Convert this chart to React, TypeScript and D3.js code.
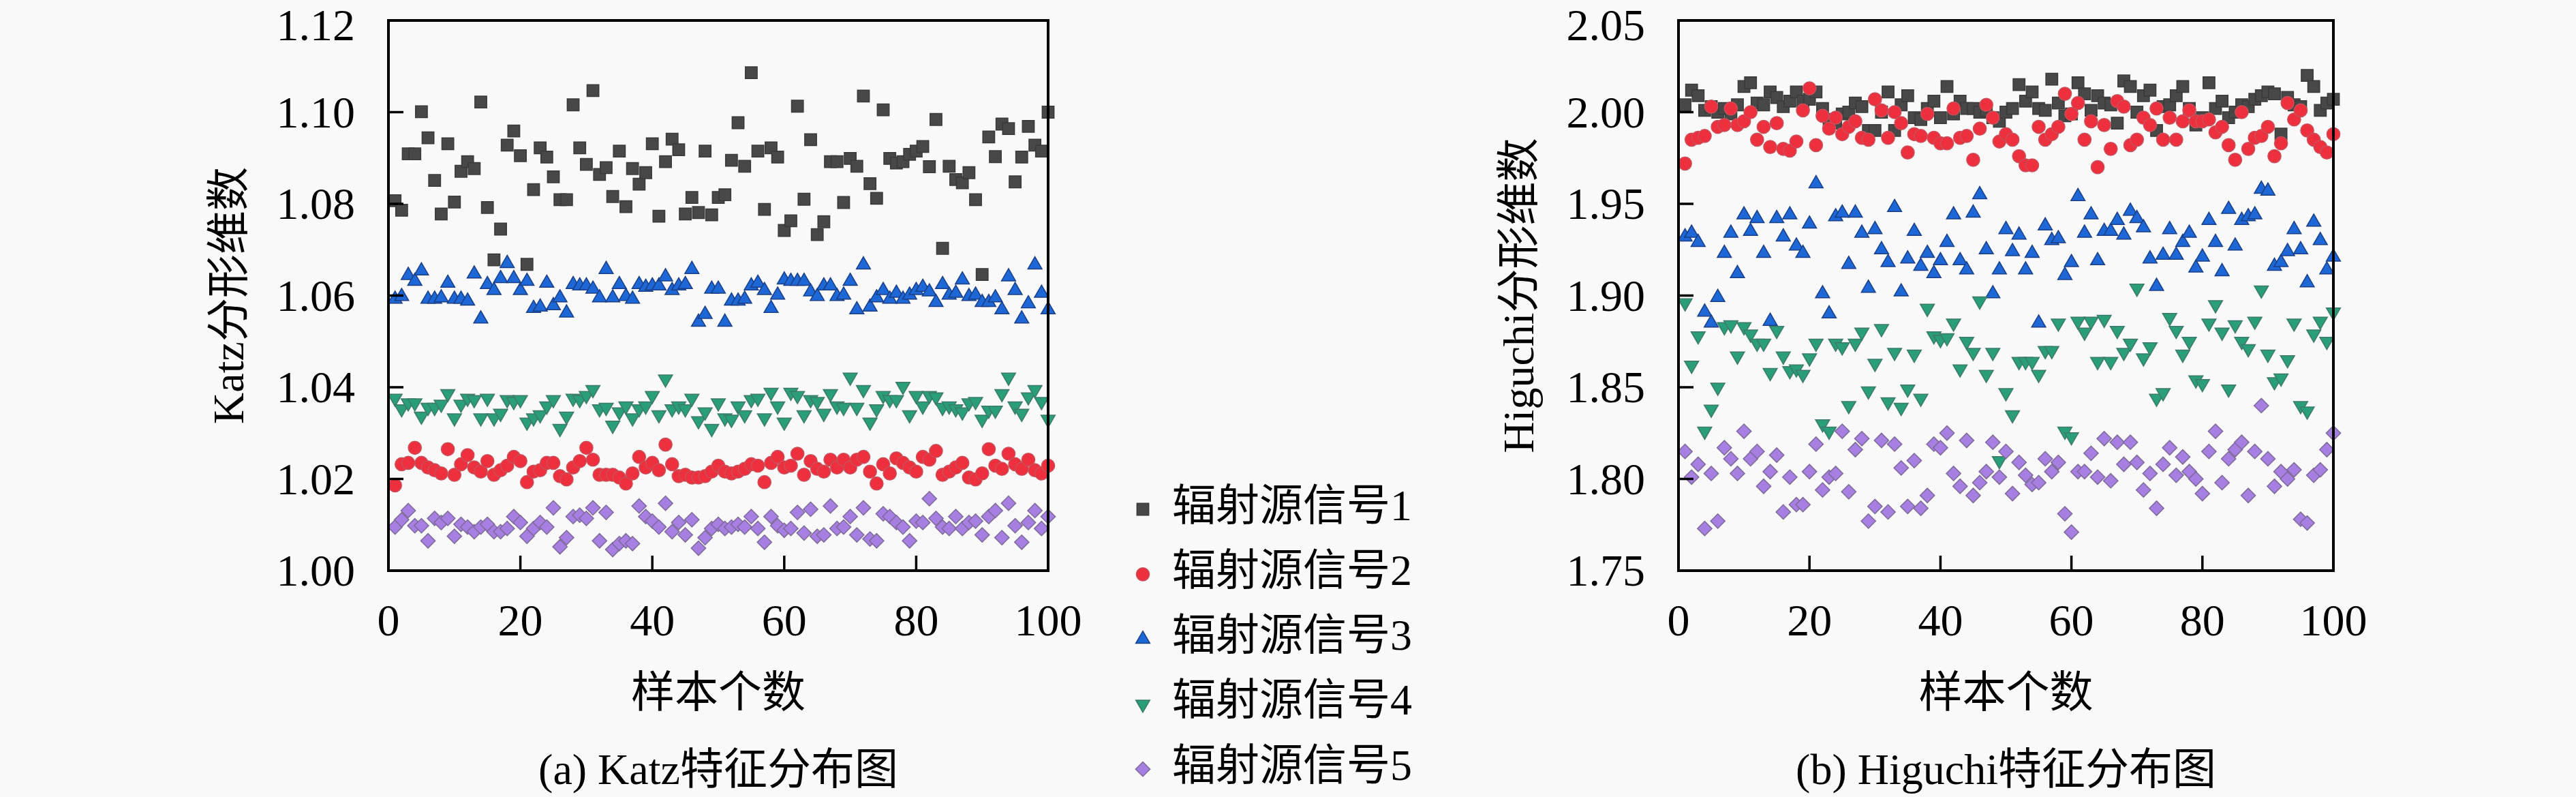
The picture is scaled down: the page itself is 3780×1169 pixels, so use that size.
import { useMemo } from "react";
import * as d3 from "d3";

// Canvas
const WIDTH = 3780;
const HEIGHT = 1169;
const BG = "#f9f9f9";
const LATIN = "'Liberation Serif', 'DejaVu Serif', serif";
const MIXED = "'Liberation Serif', 'Noto Sans CJK SC', serif";
const TICK_LENGTH = 22;

// Sample index on the x axis
const SAMPLES = d3.range(1, 101);
const X_TICKS = [0, 20, 40, 60, 80, 100];

// (a) Katz fractal dimension, one array per signal
const katz1 = [
  1.0807, 1.0786, 1.0909, 1.0909, 1.1001, 1.0944, 1.0851, 1.0778, 1.0931, 1.0804,
  1.0871, 1.0892, 1.0877, 1.1022, 1.0792, 1.0678, 1.0745, 1.0928, 1.0959, 1.0905,
  1.0668, 1.0831, 1.0922, 1.0902, 1.0859, 1.0809, 1.0809, 1.1016, 1.0922, 1.0886,
  1.1047, 1.0864, 1.0879, 1.0816, 1.0915, 1.0794, 1.0877, 1.0843, 1.0868, 1.0931,
  1.0773, 1.0892, 1.0941, 1.0918, 1.0778, 1.0814, 1.0781, 1.0915, 1.0776, 1.0814,
  1.082, 1.0895, 1.0977, 1.0882, 1.1086, 1.0915, 1.0788, 1.0922, 1.0902, 1.0742,
  1.0763, 1.1013, 1.081, 1.094, 1.0733, 1.0761, 1.0892, 1.0892, 1.0803, 1.0899,
  1.0882, 1.1035, 1.0844, 1.0812, 1.1005, 1.0899, 1.0889, 1.0892, 1.0908, 1.0915,
  1.0925, 1.0881, 1.0984, 1.0703, 1.0882, 1.0853, 1.0846, 1.0868, 1.0809, 1.0646,
  1.0946, 1.0903, 1.0974, 1.0964, 1.0848, 1.0902, 1.0969, 1.0928, 1.0915, 1.1,
];
const katz2 = [
  1.0186, 1.0232, 1.0235, 1.0268, 1.0235, 1.0225, 1.0219, 1.0212, 1.0265, 1.0209,
  1.0232, 1.0252, 1.0225, 1.0216, 1.0239, 1.0209, 1.0219, 1.0229, 1.0248, 1.0239,
  1.0193, 1.0216, 1.0219, 1.0235, 1.0235, 1.0206, 1.0199, 1.0225, 1.0239, 1.0268,
  1.0242, 1.0209, 1.0209, 1.0209, 1.0203, 1.019, 1.0212, 1.0248, 1.0225, 1.0235,
  1.0219, 1.0275, 1.0232, 1.0206, 1.0209, 1.0203, 1.0203, 1.0206, 1.0216, 1.0229,
  1.0216, 1.0212, 1.0216, 1.0222, 1.0232, 1.0229, 1.0193, 1.0235, 1.0248, 1.0225,
  1.0229, 1.0255, 1.0209, 1.0239, 1.0222, 1.0216, 1.0242, 1.0225, 1.0242, 1.0225,
  1.0242, 1.0248, 1.0216, 1.019, 1.0232, 1.0212, 1.0245, 1.0235, 1.0225, 1.0216,
  1.0248, 1.0242, 1.0261, 1.0209, 1.0216, 1.0225, 1.0235, 1.0203, 1.0199, 1.0212,
  1.0265, 1.0229, 1.0222, 1.0255, 1.0232, 1.0222, 1.0242, 1.0219, 1.0212, 1.0229,
];
const katz3 = [
  1.0592, 1.0598, 1.0644, 1.0631, 1.0654, 1.0592, 1.0592, 1.0595, 1.0627, 1.0592,
  1.0592, 1.0588, 1.0647, 1.0549, 1.0624, 1.0611, 1.0637, 1.067, 1.0637, 1.0611,
  1.0631, 1.0572, 1.0575, 1.0627, 1.0578, 1.0595, 1.0562, 1.0624, 1.0621, 1.0621,
  1.0614, 1.0595, 1.0657, 1.0595, 1.0624, 1.0598, 1.0592, 1.0624, 1.0618, 1.0621,
  1.0621, 1.0641, 1.0611, 1.0621, 1.0624, 1.0657, 1.0542, 1.0559, 1.0614, 1.0614,
  1.0542, 1.0588, 1.0588, 1.0592, 1.0621, 1.0627, 1.0611, 1.0572, 1.0601, 1.0634,
  1.0631, 1.0631, 1.0631, 1.0608, 1.0598, 1.0621, 1.0621, 1.0598, 1.0601, 1.0631,
  1.0569, 1.0667, 1.0575, 1.0595, 1.0611, 1.0592, 1.0605, 1.0592, 1.0601, 1.0611,
  1.0618, 1.0608, 1.0585, 1.0624, 1.0601, 1.0605, 1.0634, 1.0598, 1.0601, 1.0585,
  1.0585, 1.0595, 1.0569, 1.0641, 1.0611, 1.0549, 1.0582, 1.0667, 1.0605, 1.0569,
];
const katz4 = [
  1.0376, 1.0353, 1.0366, 1.0366, 1.0337, 1.0356, 1.0356, 1.0363, 1.0386, 1.0333,
  1.0363, 1.0376, 1.0373, 1.0333, 1.0376, 1.0333, 1.0343, 1.0373, 1.0369, 1.0373,
  1.0324, 1.0333, 1.034, 1.0359, 1.0373, 1.031, 1.0337, 1.0376, 1.0373, 1.0382,
  1.0395, 1.0353, 1.0356, 1.0317, 1.0346, 1.0359, 1.0333, 1.0353, 1.0359, 1.0382,
  1.034, 1.0418, 1.0353, 1.0359, 1.0353, 1.0376, 1.0327, 1.0346, 1.031, 1.0366,
  1.0333, 1.033, 1.0359, 1.034, 1.0373, 1.0376, 1.0333, 1.0389, 1.0359, 1.0324,
  1.0389, 1.0382, 1.034, 1.0373, 1.0369, 1.0343, 1.0386, 1.0359, 1.0356, 1.0422,
  1.0356, 1.0395, 1.0324, 1.0353, 1.0382, 1.0373, 1.0373, 1.0402, 1.034, 1.0382,
  1.0359, 1.0382, 1.0379, 1.0356, 1.0359, 1.0353, 1.0346, 1.0366, 1.0369, 1.033,
  1.035, 1.035, 1.0386, 1.0422, 1.0359, 1.0343, 1.0379, 1.0395, 1.0369, 1.033,
];
const katz5 = [
  1.0095, 1.0111, 1.0131, 1.0098, 1.0098, 1.0065, 1.0114, 1.0105, 1.0114, 1.0075,
  1.0101, 1.0095, 1.0085, 1.0095, 1.0101, 1.0085, 1.0085, 1.0092, 1.0118, 1.0105,
  1.0075, 1.0092, 1.0105, 1.0095, 1.0137, 1.0052, 1.0072, 1.0118, 1.0121, 1.0114,
  1.0137, 1.0065, 1.0127, 1.0046, 1.0059, 1.0065, 1.0059, 1.0141, 1.0118, 1.0108,
  1.0095, 1.0147, 1.0085, 1.0105, 1.0078, 1.0111, 1.0049, 1.0072, 1.0092, 1.0101,
  1.0092, 1.0095, 1.0101, 1.0095, 1.0118, 1.0092, 1.0062, 1.0118, 1.0098, 1.0088,
  1.0092, 1.0127, 1.0082, 1.0134, 1.0075, 1.0078, 1.0141, 1.0092, 1.0095, 1.0118,
  1.0078, 1.0137, 1.0069, 1.0065, 1.0124, 1.0118, 1.0105, 1.0095, 1.0065, 1.0108,
  1.0105, 1.0157, 1.0114, 1.0095, 1.0092, 1.0118, 1.0092, 1.0105, 1.0108, 1.0078,
  1.0118, 1.0131, 1.0072, 1.0147, 1.0098, 1.0062, 1.0105, 1.0131, 1.0092, 1.0118,
];

// (b) Higuchi fractal dimension, one array per signal
const higuchi1 = [
  2.004, 2.012, 2.009, 2.001, 2.003, 2.0, 2.002, 1.999, 2.004, 2.014,
  2.016, 2.005, 2.004, 2.011, 2.008, 2.003, 2.006, 2.011, 2.006, 2.007,
  2.011, 2.002, 1.996, 1.994, 1.999, 2.0, 2.005, 2.003, 1.99, 1.99,
  2.0, 2.011, 1.99, 2.004, 2.009, 1.997, 1.996, 2.002, 2.006, 1.997,
  2.014, 1.999, 2.006, 2.002, 2.002, 2.0, 2.001, 1.997, 1.995, 2.0,
  2.002, 2.015, 2.006, 2.011, 2.002, 2.001, 2.018, 2.005, 1.998, 1.999,
  2.016, 2.01, 2.001, 2.009, 2.005, 2.004, 1.994, 2.017, 2.014, 2.0,
  2.009, 2.012, 1.99, 2.003, 2.004, 2.009, 2.014, 2.002, 1.993, 1.997,
  2.016, 2.002, 2.006, 1.997, 2.0, 2.004, 2.003, 2.007, 2.009, 2.011,
  2.01, 1.988, 2.008, 2.004, 2.003, 2.02, 2.014, 2.001, 2.005, 2.007,
];
const higuchi2 = [
  1.972, 1.985, 1.986, 1.987, 2.003, 1.992, 1.993, 2.002, 1.993, 1.995,
  2.0, 1.985, 1.992, 1.981, 1.994, 1.98, 1.979, 1.984, 2.001, 2.013,
  1.982, 1.998, 1.991, 1.997, 1.988, 1.992, 1.995, 1.986, 1.985, 2.007,
  2.001, 1.986, 2.0, 1.994, 1.978, 1.988, 1.987, 1.999, 1.986, 1.983,
  1.983, 2.002, 1.986, 1.987, 1.974, 1.991, 2.004, 1.997, 1.984, 1.988,
  1.985, 1.976, 1.971, 1.971, 1.992, 1.985, 1.988, 1.992, 2.01, 1.999,
  2.005, 1.985, 1.995, 1.97, 1.993, 1.98, 2.006, 2.003, 1.982, 1.985,
  1.997, 1.993, 2.002, 1.985, 1.997, 1.985, 1.995, 2.001, 1.995, 1.995,
  1.996, 1.989, 1.992, 1.982, 1.974, 2.0, 1.98, 1.986, 1.987, 1.992,
  1.976, 1.983, 2.005, 1.996, 2.001, 1.99, 1.985, 1.981, 1.978, 1.988,
];
const higuchi3 = [
  1.932, 1.934, 1.929, 1.891, 1.885, 1.899, 1.923, 1.934, 1.912, 1.944,
  1.935, 1.942, 1.923, 1.886, 1.942, 1.932, 1.944, 1.927, 1.923, 1.939,
  1.961, 1.901, 1.89, 1.943, 1.945, 1.917, 1.945, 1.934, 1.904, 1.936,
  1.925, 1.918, 1.948, 1.902, 1.92, 1.935, 1.916, 1.923, 1.912, 1.919,
  1.929, 1.944, 1.919, 1.914, 1.945, 1.955, 1.925, 1.901, 1.914, 1.936,
  1.924, 1.933, 1.914, 1.923, 1.885, 1.938, 1.93, 1.931, 1.911, 1.918,
  1.954, 1.934, 1.944, 1.919, 1.935, 1.935, 1.941, 1.933, 1.946, 1.942,
  1.937, 1.92, 1.905, 1.922, 1.936, 1.922, 1.929, 1.934, 1.915, 1.921,
  1.941, 1.929, 1.913, 1.947, 1.927, 1.941, 1.943, 1.944, 1.958, 1.957,
  1.916, 1.918, 1.924, 1.936, 1.925, 1.907, 1.94, 1.93, 1.914, 1.921,
];
const higuchi4 = [
  1.896, 1.862, 1.878, 1.826, 1.838, 1.85, 1.883, 1.884, 1.867, 1.883,
  1.879, 1.874, 1.874, 1.858, 1.881, 1.867, 1.859, 1.86, 1.857, 1.866,
  1.874, 1.83, 1.826, 1.874, 1.872, 1.84, 1.874, 1.88, 1.848, 1.863,
  1.882, 1.842, 1.869, 1.839, 1.849, 1.868, 1.844, 1.893, 1.878, 1.876,
  1.877, 1.885, 1.86, 1.875, 1.869, 1.897, 1.857, 1.869, 1.81, 1.847,
  1.835, 1.864, 1.864, 1.864, 1.857, 1.87, 1.87, 1.885, 1.826, 1.823,
  1.886, 1.88, 1.886, 1.864, 1.887, 1.864, 1.881, 1.869, 1.874, 1.904,
  1.866, 1.872, 1.844, 1.847, 1.888, 1.881, 1.868, 1.875, 1.854, 1.852,
  1.885, 1.895, 1.88, 1.849, 1.884, 1.875, 1.871, 1.886, 1.903, 1.868,
  1.853, 1.855, 1.865, 1.885, 1.84, 1.837, 1.879, 1.886, 1.875, 1.891,
];
const higuchi5 = [
  1.815, 1.801, 1.808, 1.773, 1.803, 1.777, 1.817, 1.811, 1.803, 1.826,
  1.811, 1.815, 1.796, 1.804, 1.813, 1.782, 1.801, 1.786, 1.786, 1.804,
  1.819, 1.794, 1.801, 1.803, 1.826, 1.793, 1.816, 1.822, 1.777, 1.785,
  1.821, 1.782, 1.819, 1.806, 1.785, 1.81, 1.784, 1.791, 1.819, 1.817,
  1.825, 1.803, 1.796, 1.821, 1.791, 1.798, 1.804, 1.82, 1.801, 1.815,
  1.792, 1.809, 1.802, 1.797, 1.798, 1.811, 1.804, 1.809, 1.781, 1.771,
  1.804, 1.804, 1.814, 1.801, 1.822, 1.799, 1.82, 1.808, 1.82, 1.809,
  1.794, 1.803, 1.784, 1.808, 1.817, 1.802, 1.812, 1.804, 1.8, 1.792,
  1.815, 1.826, 1.798, 1.811, 1.816, 1.82, 1.791, 1.815, 1.84, 1.811,
  1.796, 1.804, 1.8, 1.805, 1.778, 1.776, 1.802, 1.805, 1.816, 1.825,
];

const KATZ_TICKS = [1.0, 1.02, 1.04, 1.06, 1.08, 1.1, 1.12];
const HIGUCHI_TICKS = [1.75, 1.8, 1.85, 1.9, 1.95, 2.0, 2.05];

const LEGEND_LABELS = ["辐射源信号1", "辐射源信号2", "辐射源信号3", "辐射源信号4", "辐射源信号5"];
const FILLS = ["#484848", "#ee2f3e", "#1d68d6", "#2a9d7b", "#a77fe2"];
const EDGES = ["#3a3a3a", "#c8505a", "#1a3f86", "#3d7a6a", "#7d6a96"];

// marker shape per signal: square, circle, triangle up, triangle down, diamond
const SHAPES = [
  { type: d3.symbolSquare, size: 300, rotate: 0 },
  { type: d3.symbolCircle, size: 290, rotate: 0 },
  { type: d3.symbolTriangle, size: 185, rotate: 0 },
  { type: d3.symbolTriangle, size: 185, rotate: 180 },
  { type: d3.symbolSquare, size: 225, rotate: 45 },
];

type Frame = { x0: number; x1: number; y0: number; y1: number };

type PanelProps = {
  frame: Frame;
  series: number[][];
  domain: [number, number];
  yTicks: number[];
  yTitle: string;
  caption: string;
};

const Marker = ({ k, x, y }: { k: number; x: number; y: number }) => {
  const shape = SHAPES[k];
  const d = d3.symbol().type(shape.type).size(shape.size)() || "";
  return (
    <path
      d={d}
      transform={`translate(${x},${y}) rotate(${shape.rotate})`}
      fill={FILLS[k]}
      stroke={EDGES[k]}
      strokeWidth={1.5}
    />
  );
};

const Panel = ({ frame, series, domain, yTicks, yTitle, caption }: PanelProps) => {
  const xScale = useMemo(
    () => d3.scaleLinear().domain([0, 100]).range([frame.x0, frame.x1]),
    [frame]
  );
  const yScale = useMemo(
    () => d3.scaleLinear().domain(domain).range([frame.y1, frame.y0]),
    [frame, domain]
  );
  const fmt = d3.format(".2f");
  const cx = (frame.x0 + frame.x1) / 2;
  const cy = (frame.y0 + frame.y1) / 2;

  return (
    <g>
      {/* points, signal 1 drawn first */}
      {series.map((values, k) => (
        <g key={k}>
          {values.map((v, i) => (
            <Marker key={i} k={k} x={xScale(SAMPLES[i])} y={yScale(v)} />
          ))}
        </g>
      ))}

      {/* inward ticks on left and bottom */}
      {yTicks.map((t) => (
        <line
          key={t}
          x1={frame.x0}
          x2={frame.x0 + TICK_LENGTH}
          y1={yScale(t)}
          y2={yScale(t)}
          stroke="#000"
          strokeWidth={3.5}
        />
      ))}
      {X_TICKS.map((t) => (
        <line
          key={t}
          x1={xScale(t)}
          x2={xScale(t)}
          y1={frame.y1}
          y2={frame.y1 - TICK_LENGTH}
          stroke="#000"
          strokeWidth={3.5}
        />
      ))}

      <rect
        x={frame.x0}
        y={frame.y0}
        width={frame.x1 - frame.x0}
        height={frame.y1 - frame.y0}
        fill="none"
        stroke="#000"
        strokeWidth={4}
      />

      {/* tick labels; the top one is kept inside the page */}
      {yTicks.map((t) => (
        <text
          key={t}
          x={frame.x0 - 49}
          y={Math.max(yScale(t), 37)}
          dy="0.34em"
          textAnchor="end"
          fontFamily={LATIN}
          fontSize={66}
        >
          {fmt(t)}
        </text>
      ))}
      {X_TICKS.map((t) => (
        <text
          key={t}
          x={xScale(t)}
          y={frame.y1 + 95}
          textAnchor="middle"
          fontFamily={LATIN}
          fontSize={66}
        >
          {t}
        </text>
      ))}

      {/* axis titles */}
      <text
        transform={`translate(${frame.x0 - 235},${cy}) rotate(-90)`}
        textAnchor="middle"
        dominantBaseline="central"
        fontFamily={MIXED}
        fontSize={64}
      >
        {yTitle}
      </text>
      <text
        x={cx}
        y={frame.y1 + 178}
        textAnchor="middle"
        dominantBaseline="central"
        fontFamily={MIXED}
        fontSize={64}
      >
        样本个数
      </text>
      <text
        x={cx}
        y={frame.y1 + 313}
        textAnchor="middle"
        fontFamily={MIXED}
        fontSize={64}
      >
        {caption}
      </text>
    </g>
  );
};

const Legend = ({ x, y, step }: { x: number; y: number; step: number }) => (
  <g>
    {LEGEND_LABELS.map((label, k) => (
      <g key={label} transform={`translate(${x},${y + k * step})`}>
        <Marker k={k} x={0} y={0} />
        <text
          x={43}
          y={-6}
          dominantBaseline="central"
          fontFamily={MIXED}
          fontSize={64}
        >
          {label}
        </text>
      </g>
    ))}
  </g>
);

const LEFT_FRAME: Frame = { x0: 570, x1: 1538, y0: 30, y1: 837 };
const RIGHT_FRAME: Frame = { x0: 2463, x1: 3424, y0: 30, y1: 837 };

export default function App() {
  return (
    <svg
      width={WIDTH}
      height={HEIGHT}
      style={{ position: "absolute", left: 0, top: 0, background: BG }}
    >
      <rect width={WIDTH} height={HEIGHT} fill={BG} />
      <Panel
        frame={LEFT_FRAME}
        series={[katz1, katz2, katz3, katz4, katz5]}
        domain={[1.0, 1.12]}
        yTicks={KATZ_TICKS}
        yTitle="Katz分形维数"
        caption="(a) Katz特征分布图"
      />
      <Panel
        frame={RIGHT_FRAME}
        series={[higuchi1, higuchi2, higuchi3, higuchi4, higuchi5]}
        domain={[1.75, 2.05]}
        yTicks={HIGUCHI_TICKS}
        yTitle="Higuchi分形维数"
        caption="(b) Higuchi特征分布图"
      />
      <Legend x={1677} y={747} step={95.3} />
    </svg>
  );
}
